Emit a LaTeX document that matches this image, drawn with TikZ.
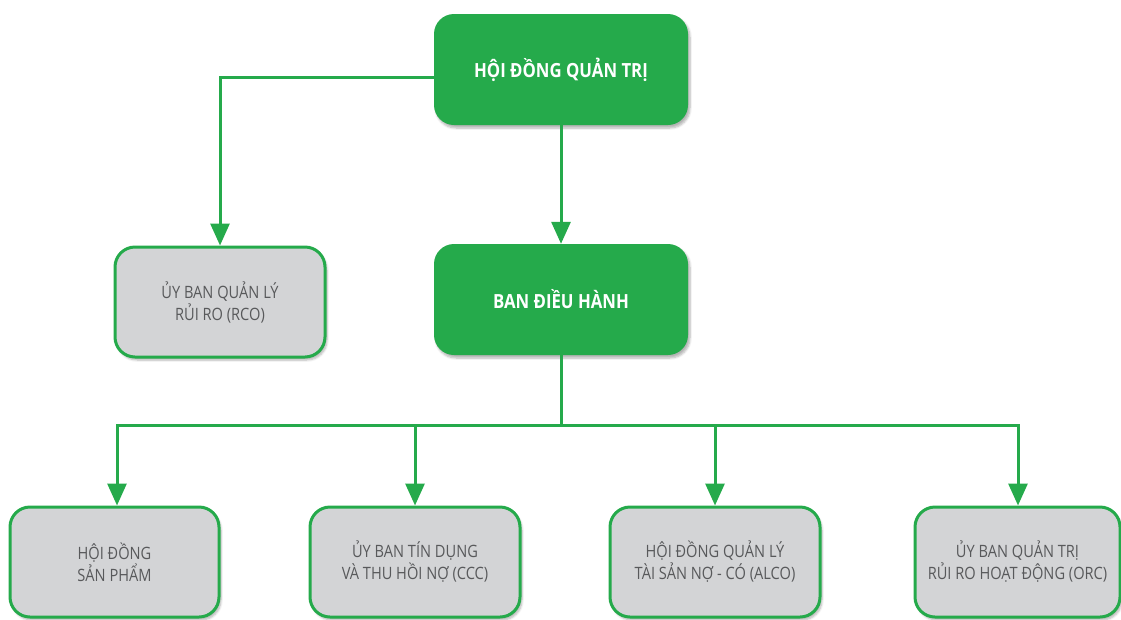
\documentclass[tikz,border=0pt]{standalone}
\usepackage{fontspec}
\setmainfont{Open Sans}
\newfontfamily\boxfont[FakeStretch=0.86]{Open Sans}
\usetikzlibrary{arrows.meta,shadows.blur}
\definecolor{bankgreen}{HTML}{25AA4B}
\definecolor{boxgray}{HTML}{D3D4D6}
\definecolor{textgray}{HTML}{58595B}
\tikzset{
  mainbox/.style={rectangle, rounded corners=20pt, fill=bankgreen, draw=none,
    minimum width=254pt, minimum height=111pt, text=white,
    font=\boxfont\bfseries\fontsize{19.5pt}{23pt}\selectfont, align=center,
    blur shadow={shadow xshift=2pt, shadow yshift=-3pt, shadow blur steps=6, shadow opacity=30}},
  subbox/.style={rectangle, rounded corners=20pt, fill=boxgray, draw=bankgreen,
    line width=3pt, minimum height=110pt, text=textgray,
    font=\boxfont\fontsize{17pt}{22pt}\selectfont, align=center,
    blur shadow={shadow xshift=2pt, shadow yshift=-3pt, shadow blur steps=6, shadow opacity=30}},
  conn/.style={draw=bankgreen, line width=3pt,
    arrows={-Triangle[width=19pt,length=22pt]}},
  bus/.style={draw=bankgreen, line width=3pt}
}
\begin{document}
\begin{tikzpicture}[x=1pt,y=-1pt]
\useasboundingbox (0,0) rectangle (1121,619);

% upper level
\node[mainbox] (hdqt) at (561,69.5) {HỘI ĐỒNG QUẢN TRỊ};
\node[mainbox] (bdh) at (561,299.5) {BAN ĐIỀU HÀNH};
\node[subbox, minimum width=210pt] (rco) at (220,302) {ỦY BAN QUẢN LÝ\\RỦI RO (RCO)};

% committees under the executive board
\node[subbox, minimum width=209pt] (prod) at (114.5,562) {HỘI ĐỒNG\\SẢN PHẨM};
\node[subbox, minimum width=210pt] (ccc) at (415,562) {ỦY BAN TÍN DỤNG\\VÀ THU HỒI NỢ (CCC)};
\node[subbox, minimum width=210pt] (alco) at (715,562) {HỘI ĐỒNG QUẢN LÝ\\TÀI SẢN NỢ - CÓ (ALCO)};
\node[subbox, minimum width=205pt] (orc) at (1017.5,562) {ỦY BAN QUẢN TRỊ\\RỦI RO HOẠT ĐỘNG (ORC)};

% bus line coordinates
\coordinate (busM) at (561,425);
\coordinate (busL) at (117,425);
\coordinate (busR) at (1018,425);
\coordinate (busB) at (415,425);
\coordinate (busC) at (715,425);

% connectors
\draw[conn] ([yshift=-7.5pt]hdqt.west) -| (rco.north);
\draw[conn] (hdqt.south) -- (bdh.north);
\draw[bus] (bdh.south) -- (busM);
\draw[conn, arrows={Triangle[width=19pt,length=22pt]-Triangle[width=19pt,length=22pt]}]
  (busL |- prod.north) -- (busL) -- (busR) -- (busR |- orc.north);
\draw[conn] (busB) -- (busB |- ccc.north);
\draw[conn] (busC) -- (busC |- alco.north);
\end{tikzpicture}
\end{document}
